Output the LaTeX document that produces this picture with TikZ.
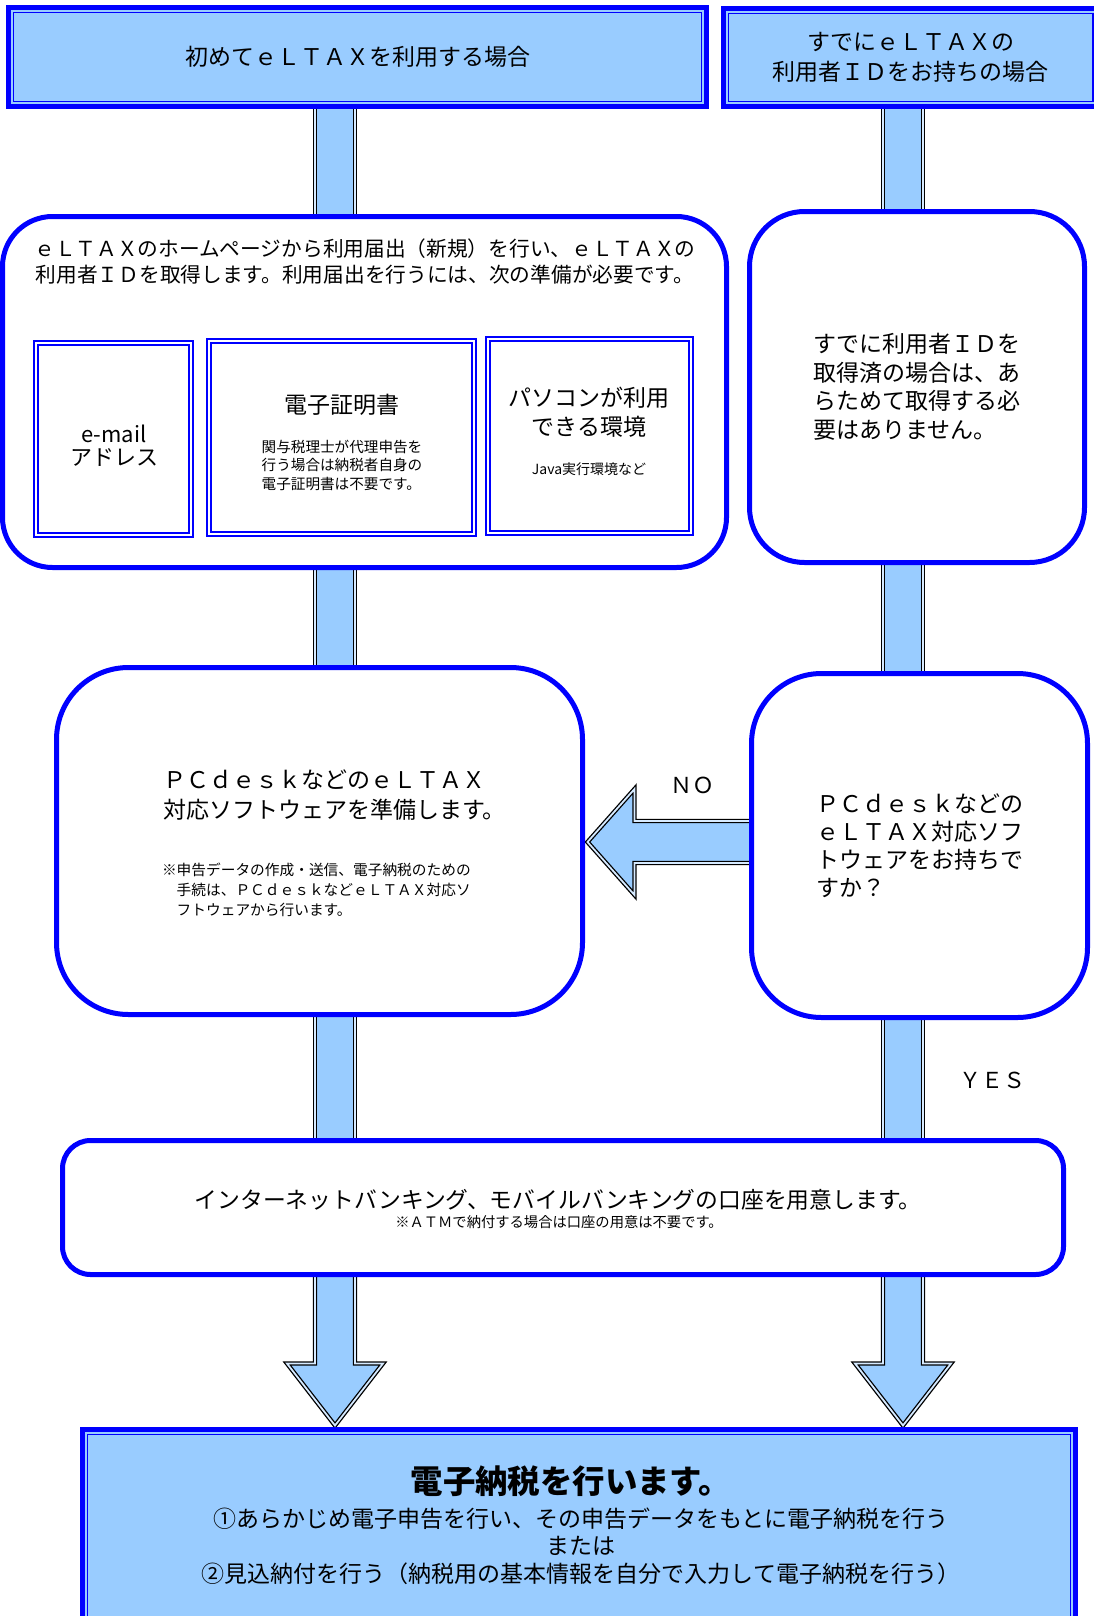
\documentclass[tikz,border=0pt]{standalone}
\usepackage{fontspec}
\setmainfont{Noto Sans CJK JP}
\usetikzlibrary{calc}
\definecolor{bblue}{RGB}{0,0,255}
\definecolor{lblue}{RGB}{153,204,255}
\definecolor{gapblue}{RGB}{214,234,255}
\pgfdeclarelayer{bg}
\pgfsetlayers{bg,main}
\begin{document}
\begin{tikzpicture}[x=1pt,y=-1pt,
  every node/.style={inner sep=0pt,outer sep=0pt,text=black},
  headbox/.style={draw=bblue,line width=5pt,fill=lblue},
  innerline/.style={draw=bblue,line width=1.5pt},
  roundbox/.style={draw=bblue,line width=5pt,fill=white,rounded corners=#1},
  reqbox/.style={draw=bblue,line width=1.4pt,double=white,double distance=2.8pt},
  shaft/.style={fill=lblue,draw=black,line width=1.3pt,double=gapblue,double distance=1.8pt,line join=miter},
  ]
\useasboundingbox (0,0) rectangle (1094,1616);

% top boxes
\node[headbox,minimum width=698pt,minimum height=99pt,font=\fontsize{23}{29}\selectfont] (t1) at (357.5,57) {初めてｅＬＴＡＸを利用する場合};
\draw[innerline] ($(t1.north west)+(5,5)$) rectangle ($(t1.south east)+(-5,-5)$);
\node[headbox,minimum width=374.5pt,minimum height=98pt,align=center,font=\fontsize{23}{30}\selectfont] (t2) at (910.75,57.5) {すでにｅＬＴＡＸの\\利用者ＩＤをお持ちの場合};
\draw[innerline] ($(t2.north west)+(5,5)$) rectangle ($(t2.south east)+(-5,-5)$);

% second row
\node[roundbox=50pt,minimum width=724pt,minimum height=351pt] (b2L) at (364.5,392) {};
\node[align=center,font=\fontsize{20.7}{26}\selectfont] (b2Lt) at (365,262) {ｅＬＴＡＸのホームページから利用届出（新規）を行い、ｅＬＴＡＸの\\利用者ＩＤを取得します。利用届出を行うには、次の準備が必要です。};

\node[reqbox,minimum width=155pt,minimum height=192pt] (rq1) at (113.5,439) {};
\node[align=center,font=\fontsize{22}{23}\selectfont] (rq1t) at (114,445.5) {e-mail\\アドレス};
\node[reqbox,minimum width=265pt,minimum height=193pt] (rq2) at (341.5,437.5) {};
\node[font=\fontsize{23}{29}\selectfont] (rq2a) at (342,405) {電子証明書};
\node[align=left,font=\fontsize{14.6}{18.5}\selectfont] (rq2b) at (342,465) {関与税理士が代理申告を\\行う場合は納税者自身の\\電子証明書は不要です。};
\node[reqbox,minimum width=203pt,minimum height=194pt] (rq3) at (589.5,436) {};
\node[align=center,font=\fontsize{23}{29}\selectfont] (rq3a) at (589,412.5) {パソコンが利用\\できる環境};
\node[font=\fontsize{14}{18}\selectfont] (rq3b) at (589,469) {Java実行環境など};

\node[roundbox=55pt,minimum width=335pt,minimum height=351pt,align=left,font=\fontsize{23}{28.5}\selectfont] (b2R) at (917,387) {すでに利用者ＩＤを\\取得済の場合は、あ\\らためて取得する必\\要はありません。};

% third row
\node[roundbox=72pt,minimum width=526pt,minimum height=347pt] (b3L) at (319.5,841) {};
\node[anchor=west,align=left,font=\fontsize{23}{30}\selectfont] (b3La) at (163,795) {ＰＣｄｅｓｋなどのｅＬＴＡＸ\\対応ソフトウェアを準備します。};
\node[anchor=west,align=left,font=\fontsize{14.7}{20}\selectfont] (b3Lb) at (162,890) {※申告データの作成・送信、電子納税のための\\\hspace*{1em}手続は、ＰＣｄｅｓｋなどｅＬＴＡＸ対応ソ\\\hspace*{1em}フトウェアから行います。};

\node[roundbox=70pt,minimum width=336pt,minimum height=344pt,align=left,font=\fontsize{23}{28}\selectfont] (b3R) at (919.5,845.5) {ＰＣｄｅｓｋなどの\\ｅＬＴＡＸ対応ソフ\\トウェアをお持ちで\\すか？};

\node[font=\fontsize{22}{26}\selectfont] (nol) at (692,785) {ＮＯ};
\node[font=\fontsize{22}{26}\selectfont] (yesl) at (992,1080) {ＹＥＳ};

% fourth row
\node[roundbox=28pt,minimum width=1001pt,minimum height=134pt] (b4) at (563,1207.5) {};
\node[font=\fontsize{22.8}{28}\selectfont] (b4a) at (558,1200) {インターネットバンキング、モバイルバンキングの口座を用意します。};
\node[font=\fontsize{14.3}{18}\selectfont] (b4b) at (559,1222) {※ＡＴＭで納付する場合は口座の用意は不要です。};

% bottom
\node[headbox,minimum width=993pt,minimum height=400pt] (bot) at (579,1629.5) {};
\draw[innerline] ($(bot.north west)+(5,5)$) rectangle ($(bot.south east)+(-5,-5)$);
\node[font=\bfseries\fontsize{32.4}{36}\selectfont] (bota) at (571,1481) {電子納税を行います。};
\node[align=center,font=\fontsize{23}{27.5}\selectfont] (botb) at (581,1546) {①あらかじめ電子申告を行い、その申告データをもとに電子納税を行う\\または\\②見込納付を行う（納税用の基本情報を自分で入力して電子納税を行う）};

% connectors
\coordinate (colL) at (335,0);
\coordinate (colR) at (903,0);
\coordinate (noY) at (0,842);
\begin{pgfonlayer}{bg}
\foreach \a/\b/\c in {t1/b2L/colL, b2L/b3L/colL, b3L/b4/colL, t2/b2R/colR, b2R/b3R/colR, b3R/b4/colR}
  \path[shaft] ($(\a.south -| \c)+(-20,-6)$) rectangle ($(\b.north -| \c)+(20,6)$);
\foreach \c in {colL,colR} {
  \coordinate (s0) at ($(b4.south -| \c)+(0,-6)$);
  \coordinate (tp) at ($(bot.north -| \c)+(0,-4)$);
  \coordinate (hb) at ($(tp)+(0,-62)$);
  \path[shaft] ($(s0)+(-20,0)$) -- ($(hb)+(-20,0)$) -- ($(hb)+(-48,0)$) -- (tp) -- ($(hb)+(48,0)$) -- ($(hb)+(20,0)$) -- ($(s0)+(20,0)$) -- cycle;
}
\coordinate (nt) at ($(b3L.east |- noY)+(5,0)$);
\coordinate (ne) at ($(b3R.west |- noY)+(6,0)$);
\path[shaft] (nt) -- ($(nt)+(47,-53)$) -- ($(nt)+(47,-21)$) -- ($(ne)+(0,-21)$) -- ($(ne)+(0,21)$) -- ($(nt)+(47,21)$) -- ($(nt)+(47,53)$) -- cycle;
\end{pgfonlayer}
\end{tikzpicture}
\end{document}
